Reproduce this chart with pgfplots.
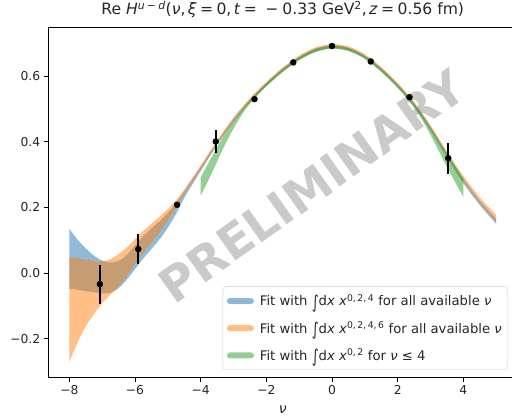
\documentclass[border=0pt]{standalone}
\usepackage{fontspec}
\setmainfont{DejaVu Sans}
\usepackage{pgfplots}
\pgfplotsset{compat=1.18}
\usepgfplotslibrary{fillbetween}

\definecolor{mplblue}{HTML}{1F77B4}
\definecolor{mplorange}{HTML}{FF7F0E}
\definecolor{mplgreen}{HTML}{2CA02C}

% tall integral sign, as set in the legend texts
\newcommand{\Int}{\raisebox{-0.18em}{\scalebox{1}[1.35]{∫}}}
\newcommand{\legpatch}[1]{\fill[#1, fill opacity=0.5] (0pt,-3pt) rectangle (27pt,3pt); \path (0pt,0pt) -- (31pt,0pt);}

\begin{document}
\begin{tikzpicture}
\begin{axis}[
  name=ax,
  width=469.5pt, height=350pt, scale only axis,
  xmin=-8.65, xmax=5.65, ymin=-0.32, ymax=0.747,
  axis line style={black, line width=1pt},
  tick align=outside, major tick length=4.3pt,
  tick style={black, line width=1pt},
  xtick={-8,-6,-4,-2,0,2,4},
  xticklabels={−8,−6,−4,−2,0,2,4},
  ytick={-0.2,0,0.2,0.4,0.6},
  yticklabels={−0.2,0.0,0.2,0.4,0.6},
  xtick pos=bottom, ytick pos=left,
  tick label style={font=\fontsize{12.3}{14.8}\selectfont, text=black!85},
  title={Re \textit{H}\textsuperscript{\textit{u}\hspace{0.2em}−\hspace{0.2em}\textit{d}}(\textit{ν},\hspace{0.15em}\textit{ξ}\hspace{0.22em}=\hspace{0.22em}0,\hspace{0.15em}\textit{t}\hspace{0.22em}=\hspace{0.55em}−\hspace{0.25em}0.33 GeV\textsuperscript{2},\hspace{0.15em}\textit{z}\hspace{0.22em}=\hspace{0.22em}0.56 fm)},
  title style={font=\fontsize{15.6}{18.7}\selectfont, text=black!85, at={(0.5,1)}, anchor=base, yshift=7.5pt},
  xlabel={\textit{ν}},
  xlabel style={font=\fontsize{14}{16}\selectfont, text=black!85, at={(0.5,0)}, anchor=base, yshift=-35.5pt},
  legend cell align=left,
  legend style={at={(1,0)}, anchor=south east, xshift=-9.5pt, yshift=8pt,
    draw=black!20, rounded corners=3pt, fill=white, fill opacity=0.8,
    draw opacity=1, text opacity=1, text=black!85,
    font=\fontsize{13.2}{15.8}\selectfont, row sep=10.5pt,
    inner xsep=4pt, inner ysep=6pt},
]

% band edges of the fit with moments x^{0,2,4}
\addplot[name path=bu, draw=none, smooth, forget plot] coordinates {
(-8,0.135) (-7.75,0.102) (-7.5,0.075) (-7.25,0.053) (-7,0.038) (-6.75,0.032)
(-6.5,0.037) (-6.25,0.055) (-6,0.084) (-5.75,0.112) (-5.5,0.136) (-5.25,0.158)
(-5,0.183) (-4.75,0.213) (-4.5,0.249) (-4,0.324) (-3.5,0.400) (-3,0.470)
(-2.5,0.529) (-2,0.579) (-1.5,0.623) (-1,0.659) (-0.5,0.684) (0,0.694)
(0.5,0.687) (1,0.663) (1.5,0.624) (2,0.576) (2.5,0.517) (3,0.445)
(3.5,0.364) (4,0.288) (4.5,0.221) (5,0.165)};
\addplot[name path=bl, draw=none, smooth, forget plot] coordinates {
(-8,-0.048) (-7.75,-0.051) (-7.5,-0.055) (-7.25,-0.059) (-7,-0.062) (-6.75,-0.060)
(-6.5,-0.046) (-6.25,-0.020) (-6,0.012) (-5.75,0.044) (-5.5,0.073) (-5.25,0.103)
(-5,0.138) (-4.75,0.180) (-4.5,0.229) (-4,0.311) (-3.5,0.390) (-3,0.460)
(-2.5,0.520) (-2,0.570) (-1.5,0.614) (-1,0.650) (-0.5,0.675) (0,0.685)
(0.5,0.678) (1,0.654) (1.5,0.614) (2,0.565) (2.5,0.506) (3,0.434)
(3.5,0.352) (4,0.274) (4.5,0.207) (5,0.150)};

% band edges of the fit with moments x^{0,2,4,6}
\addplot[name path=ou, draw=none, smooth, forget plot] coordinates {
(-8,0.049) (-7.75,0.046) (-7.5,0.041) (-7.25,0.036) (-7,0.035) (-6.75,0.042)
(-6.5,0.058) (-6.25,0.078) (-6,0.103) (-5.75,0.128) (-5.5,0.150) (-5.25,0.172)
(-5,0.195) (-4.75,0.222) (-4.5,0.255) (-4,0.328) (-3.5,0.404) (-3,0.474)
(-2.5,0.533) (-2,0.583) (-1.5,0.627) (-1,0.663) (-0.5,0.688) (0,0.698)
(0.5,0.691) (1,0.667) (1.5,0.628) (2,0.580) (2.5,0.522) (3,0.451)
(3.5,0.371) (4,0.296) (4.5,0.231) (5,0.177)};
\addplot[name path=ol, draw=none, smooth, forget plot] coordinates {
(-8,-0.271) (-7.75,-0.212) (-7.5,-0.163) (-7.25,-0.125) (-7,-0.092) (-6.75,-0.066)
(-6.5,-0.040) (-6.25,-0.010) (-6,0.028) (-5.75,0.062) (-5.5,0.092) (-5.25,0.124)
(-5,0.160) (-4.75,0.198) (-4.5,0.240) (-4,0.316) (-3.5,0.393) (-3,0.463)
(-2.5,0.522) (-2,0.572) (-1.5,0.616) (-1,0.652) (-0.5,0.677) (0,0.687)
(0.5,0.680) (1,0.656) (1.5,0.617) (2,0.569) (2.5,0.511) (3,0.440)
(3.5,0.358) (4,0.281) (4.5,0.214) (5,0.156)};

% band edges of the fit with moments x^{0,2} restricted to nu <= 4
\addplot[name path=gu, draw=none, smooth, forget plot] coordinates {
(-4,0.292) (-3.75,0.338) (-3.5,0.383) (-3.25,0.426) (-3,0.462) (-2.75,0.495)
(-2.5,0.526) (-2,0.578) (-1.5,0.622) (-1,0.658) (-0.5,0.683) (0,0.693)
(0.5,0.686) (1,0.662) (1.5,0.623) (2,0.574) (2.25,0.547) (2.5,0.517)
(2.75,0.483) (3,0.444) (3.25,0.405) (3.5,0.365) (3.75,0.326) (4,0.287)};
\addplot[name path=gl, draw=none, smooth, forget plot] coordinates {
(-4,0.236) (-3.75,0.286) (-3.5,0.340) (-3.25,0.393) (-3,0.440) (-2.75,0.482)
(-2.5,0.516) (-2,0.569) (-1.5,0.613) (-1,0.649) (-0.5,0.674) (0,0.684)
(0.5,0.677) (1,0.653) (1.5,0.614) (2,0.565) (2.25,0.537) (2.5,0.505)
(2.75,0.466) (3,0.421) (3.25,0.373) (3.5,0.323) (3.75,0.277) (4,0.232)};

\addplot[fill=mplblue, fill opacity=0.5, draw=none,
  legend image code/.code={\legpatch{mplblue}}]
  fill between[of=bu and bl];
\addlegendentry{Fit with \Int d\textit{x} \textit{x}\textsuperscript{0,\,2,\,4} for all available \textit{ν}}

\addplot[fill=mplorange, fill opacity=0.5, draw=none,
  legend image code/.code={\legpatch{mplorange}}]
  fill between[of=ou and ol];
\addlegendentry{Fit with \Int d\textit{x} \textit{x}\textsuperscript{0,\,2,\,4,\,6} for all available \textit{ν}}

\addplot[fill=mplgreen, fill opacity=0.5, draw=none,
  legend image code/.code={\legpatch{mplgreen}}]
  fill between[of=gu and gl];
\addlegendentry{Fit with \Int d\textit{x} \textit{x}\textsuperscript{0,\,2} for \textit{ν} ≤ 4}

% lattice data
\addplot[only marks, mark=*, mark size=3pt, black,
  error bars/.cd, y dir=both, y explicit, error mark=none,
  error bar style={line width=1.8pt, black}]
  coordinates {
  (-7.07,-0.034) +- (0,0.059)
  (-5.90,0.073) +- (0,0.045)
  (-4.72,0.208) +- (0,0.006)
  (-3.54,0.401) +- (0,0.036)
  (-2.36,0.530) +- (0,0.006)
  (-1.18,0.642) +- (0,0.005)
  (0,0.692) +- (0,0.004)
  (1.18,0.645) +- (0,0.005)
  (2.36,0.536) +- (0,0.007)
  (3.54,0.350) +- (0,0.047)
  };

\node[rotate=35.5, text=gray, text opacity=0.42,
  font=\fontsize{47.6}{50}\selectfont\bfseries] at (axis cs:-0.62,0.265) {PRELIMINARY};
\end{axis}
\pgfresetboundingbox
\path[use as bounding box] ([xshift=-48pt,yshift=-39pt]ax.south west)
  rectangle ([xshift=-5.5pt,yshift=28pt]ax.north east);
\end{tikzpicture}
\end{document}
